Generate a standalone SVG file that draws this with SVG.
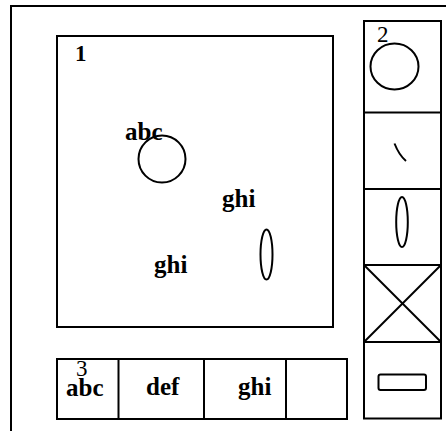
<svg xmlns="http://www.w3.org/2000/svg" width="446" height="431" viewBox="0 0 446 431">
<style>
.ln{fill:none;stroke:#000;stroke-width:2}
.tx{font-family:"Liberation Serif","Times New Roman",serif;font-size:25px;font-weight:bold;fill:#000}
.num{font-family:"Liberation Serif","Times New Roman",serif;font-size:23px;fill:#000}
</style>
<rect width="446" height="431" fill="#fff"/>
<g id="frame"><path class="ln" d="M11,431 V6 H446"/></g>
<g id="panel1">
<rect class="ln" x="57" y="36" width="276" height="291"/>
<text class="num" x="75" y="61" font-weight="bold">1</text>
<text class="tx" x="125" y="140">abc</text>
<circle class="ln" cx="162" cy="159" r="23.5"/>
<text class="tx" x="222" y="207">ghi</text>
<text class="tx" x="154" y="273">ghi</text>
<ellipse class="ln" cx="266.5" cy="254.5" rx="6" ry="25"/>
</g>
<g id="panel2">
<rect class="ln" x="364" y="21" width="77" height="397.5"/>
<line class="ln" x1="364" y1="112.5" x2="441" y2="112.5"/>
<line class="ln" x1="364" y1="189" x2="441" y2="189"/>
<line class="ln" x1="364" y1="265" x2="441" y2="265"/>
<line class="ln" x1="364" y1="342" x2="441" y2="342"/>
<text class="num" x="377" y="42">2</text>
<ellipse class="ln" cx="394.5" cy="66.5" rx="24" ry="23"/>
<path class="ln" d="M394.5,143.5 Q399,155 406,161"/>
<ellipse class="ln" cx="402" cy="222" rx="5.8" ry="25"/>
<line class="ln" x1="364" y1="265" x2="441" y2="342"/>
<line class="ln" x1="441" y1="265" x2="364" y2="342"/>
<rect class="ln" x="378.5" y="374.5" width="47.5" height="15.5" rx="2"/>
</g>
<g id="panel3">
<rect class="ln" x="57" y="359" width="290" height="60"/>
<line class="ln" x1="118.5" y1="359" x2="118.5" y2="419"/>
<line class="ln" x1="204" y1="359" x2="204" y2="419"/>
<line class="ln" x1="286" y1="359" x2="286" y2="419"/>
<text class="num" x="76" y="376" font-size="21">3</text>
<text class="tx" x="66" y="396">abc</text>
<text class="tx" x="146" y="395">def</text>
<text class="tx" x="238" y="395">ghi</text>
</g>
<g id="connectors"/>
</svg>
